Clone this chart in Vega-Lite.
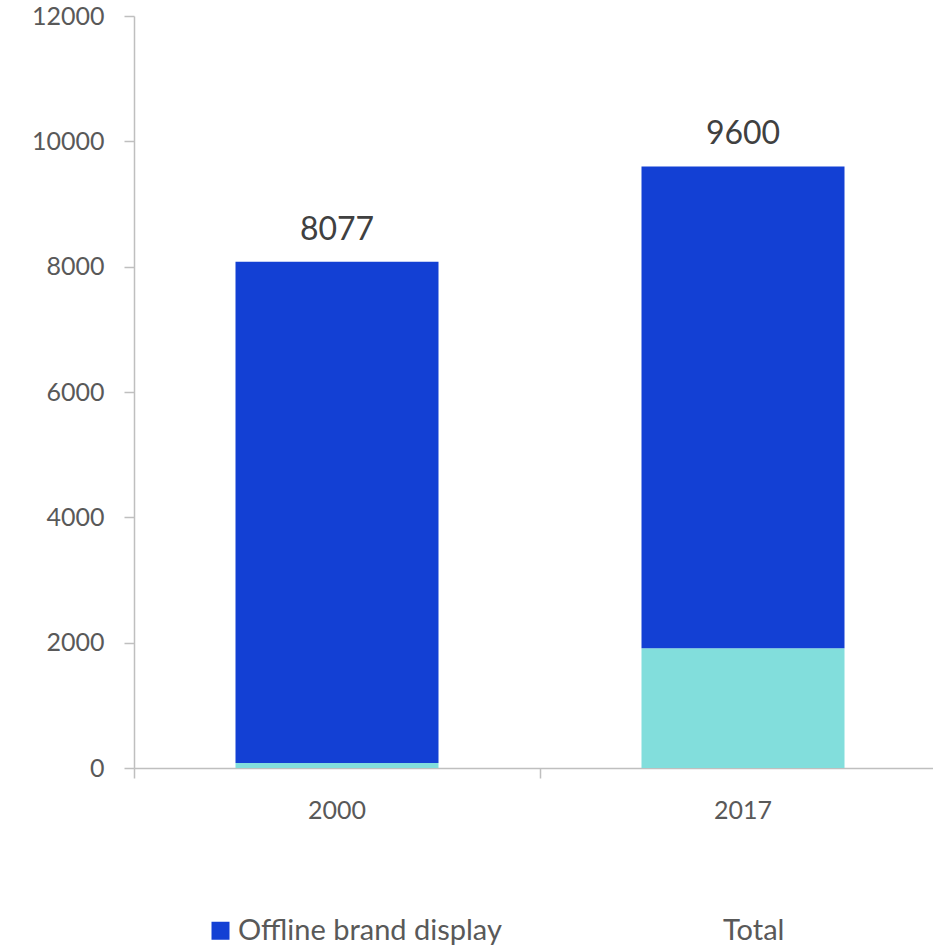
{
  "$schema": "https://vega.github.io/schema/vega-lite/v6.json",
  "autosize": {"type": "none"},
  "width": 812,
  "height": 752,
  "padding": {"left": 134, "top": 16, "right": 0, "bottom": 180},
  "background": "white",
  "config": {"view": {"stroke": null}, "font": "Lato"},
  "datasets": {
    "parts": [
      {"year": "2000", "series": "Online brand display", "value": 80},
      {"year": "2000", "series": "Offline brand display", "value": 7997},
      {"year": "2017", "series": "Online brand display", "value": 1910},
      {"year": "2017", "series": "Offline brand display", "value": 7690}
    ],
    "totals": [
      {"year": "2000", "total": 8077},
      {"year": "2017", "total": 9600}
    ]
  },
  "layer": [
    {
      "data": {"name": "parts"},
      "mark": {"type": "bar"},
      "encoding": {
        "x": {
          "field": "year", "type": "nominal",
          "scale": {"paddingInner": 0.5, "paddingOuter": 0.25},
          "axis": {
            "title": null, "labelAngle": 0, "ticks": false, "orient": "bottom",
            "domainColor": "#bfbfbf", "domainWidth": 1.5,
            "labelFont": "Lato", "labelFontSize": 25, "labelColor": "#595959",
            "labelPadding": 30
          }
        },
        "y": {
          "field": "value", "type": "quantitative", "stack": "zero",
          "scale": {"domain": [0, 12000], "nice": false},
          "axis": {
            "title": null, "values": [0, 2000, 4000, 6000, 8000, 10000, 12000],
            "format": "d",
            "grid": false, "domainColor": "#bfbfbf", "domainWidth": 1.5,
            "tickColor": "#bfbfbf", "tickSize": 10, "tickWidth": 1.5,
            "labelFont": "Lato", "labelFontSize": 25, "labelColor": "#595959",
            "labelPadding": 20
          }
        },
        "color": {
          "field": "series", "type": "nominal",
          "sort": ["Online brand display", "Offline brand display", "Total"],
          "scale": {
            "domain": ["Online brand display", "Offline brand display", "Total"],
            "range": ["#82dedc", "#1340d4", "transparent"]
          },
          "legend": {
            "title": null, "values": ["Offline brand display", "Total"],
            "orient": "none", "legendX": 72, "legendY": 900,
            "direction": "horizontal", "columns": 2, "columnPadding": 189,
            "symbolType": "square", "symbolSize": 324, "symbolStrokeWidth": 0,
            "labelFont": "Lato", "labelFontSize": 29, "labelColor": "#595959",
            "labelOffset": 3, "labelLimit": 400
          }
        }
      }
    },
    {
      "data": {"name": "totals"},
      "mark": {"type": "text", "baseline": "alphabetic", "dy": -22, "fontSize": 32, "color": "#404040", "font": "Lato"},
      "encoding": {
        "x": {
          "field": "year", "type": "nominal",
          "axis": {
            "title": null, "labels": false, "domain": false, "bandPosition": -0.5,
            "orient": "bottom",
            "ticks": true, "tickColor": "#bfbfbf", "tickSize": 10, "tickWidth": 1.5
          }
        },
        "y": {"field": "total", "type": "quantitative"},
        "text": {"field": "total", "type": "quantitative", "format": "d"}
      }
    }
  ],
  "resolve": {"axis": {"x": "independent"}}
}
